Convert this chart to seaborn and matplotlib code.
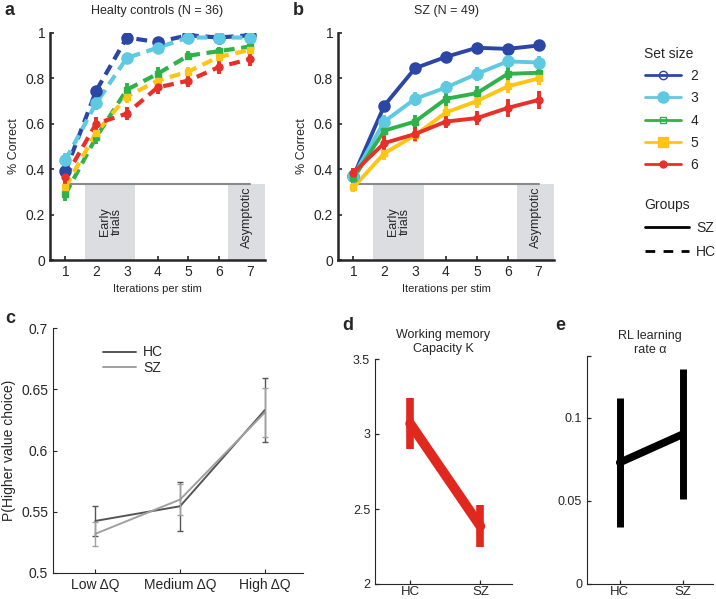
import numpy as np
import pandas as pd
import matplotlib
matplotlib.use("Agg")
import matplotlib.pyplot as plt
import seaborn as sns
from matplotlib.lines import Line2D

# ---------------- data ----------------
iterations = [1, 2, 3, 4, 5, 6, 7]
set_sizes = [2, 3, 4, 5, 6]
set_colors = ["#2c46a6", "#5ec9e0", "#2fb24a", "#ffc515", "#e8302a"]

# panel a: healthy controls, % correct by set size
hc_acc = {
    2: [0.39, 0.745, 0.98, 0.96, 0.99, 0.98, 0.99],
    3: [0.44, 0.69, 0.89, 0.935, 0.98, 0.98, 0.98],
    4: [0.29, 0.54, 0.75, 0.82, 0.90, 0.92, 0.94],
    5: [0.32, 0.56, 0.72, 0.79, 0.83, 0.895, 0.925],
    6: [0.365, 0.60, 0.645, 0.76, 0.79, 0.85, 0.885],
}
hc_err = {
    2: [0.02, 0.02, 0.01, 0.01, 0.01, 0.01, 0.01],
    3: [0.03, 0.03, 0.02, 0.02, 0.01, 0.01, 0.01],
    4: [0.03, 0.03, 0.03, 0.03, 0.02, 0.02, 0.02],
    5: [0.03, 0.03, 0.03, 0.02, 0.02, 0.02, 0.02],
    6: [0.03, 0.03, 0.03, 0.03, 0.03, 0.03, 0.03],
}

# panel b: schizophrenia patients
sz_acc = {
    2: [0.37, 0.68, 0.845, 0.895, 0.935, 0.93, 0.945],
    3: [0.37, 0.61, 0.71, 0.76, 0.82, 0.875, 0.87],
    4: [0.36, 0.57, 0.61, 0.71, 0.735, 0.82, 0.825],
    5: [0.32, 0.47, 0.55, 0.65, 0.70, 0.765, 0.80],
    6: [0.385, 0.515, 0.555, 0.61, 0.625, 0.67, 0.705],
}
sz_err = {
    2: [0.02, 0.02, 0.02, 0.02, 0.015, 0.015, 0.015],
    3: [0.02, 0.03, 0.03, 0.03, 0.03, 0.03, 0.03],
    4: [0.02, 0.03, 0.03, 0.03, 0.03, 0.03, 0.03],
    5: [0.02, 0.03, 0.03, 0.03, 0.03, 0.03, 0.03],
    6: [0.02, 0.03, 0.03, 0.03, 0.03, 0.04, 0.04],
}

# panel c
dq_labels = ["Low \u0394Q", "Medium \u0394Q", "High \u0394Q"]
c_hc = [0.5425, 0.5545, 0.633]
c_hc_err = [0.012, 0.020, 0.026]
c_sz = [0.532, 0.560, 0.631]
c_sz_err = [0.010, 0.013, 0.020]

# panels d and e
groups = ["HC", "SZ"]
wm_k = [3.07, 2.385]
wm_k_err = [0.17, 0.14]
rl_alpha = [0.073, 0.090]
rl_alpha_err = [0.039, 0.039]

# ---------------- figure ----------------
sns.set_style("ticks")
plt.rcParams["font.family"] = ["Liberation Sans", "DejaVu Sans"]
fig = plt.figure(figsize=(7.16, 5.99), dpi=100)
W, H = 716, 599


def px_axes(x0, y0, x1, y1):
    return fig.add_axes([x0 / W, 1 - y1 / H, (x1 - x0) / W, (y1 - y0) / H])


def learning_panel(ax, acc, err, style, title, letter):
    rows = []
    for s in set_sizes:
        for it, v in zip(iterations, acc[s]):
            rows.append({"iter": it, "acc": v, "set": s})
    df = pd.DataFrame(rows)
    # shaded regions and chance line
    ax.axvspan(1.65, 3.28, ymin=0, ymax=0.333, color="#dcdde0", lw=0)
    ax.axvspan(6.3, 7.5, ymin=0, ymax=0.333, color="#dcdde0", lw=0)
    ax.plot([1, 7], [0.333, 0.333], color="#8a8a8a", lw=1.5, zorder=1)
    ax.text(2.47, 0.17, "Early\ntrials", rotation=90, ha="center", va="center",
            fontsize=9, linespacing=1.0)
    ax.text(6.9, 0.325, "Asymptotic", rotation=90, ha="center", va="top", fontsize=9)
    kws = dict(linestyle=(0, (2.6, 1.6))) if style == "--" else {}
    sns.lineplot(data=df, x="iter", y="acc", hue="set", palette=set_colors,
                 lw=3 if style == "--" else 2.8, legend=False, ax=ax, zorder=3, **kws)
    for s, c in zip(set_sizes, set_colors):
        ms = 8 if s in (2, 3) else 5
        mk = "o" if s in (2, 3, 6) else "s"
        ax.errorbar(iterations, acc[s], yerr=err[s], fmt=mk, ms=ms, color=c,
                    elinewidth=2.8, capsize=0, zorder=4)
    ax.set_xlim(0.5, 7.5)
    ax.set_ylim(0, 1)
    ax.set_xticks(iterations)
    ax.set_yticks([0, 0.2, 0.4, 0.6, 0.8, 1])
    ax.set_yticklabels(["0", "0.2", "0.4", "0.6", "0.8", "1"])
    ax.tick_params(direction="in", labelsize=10, width=1.2, length=3)
    ax.set_xlabel("Iterations per stim", fontsize=8)
    ax.set_ylabel("% Correct", fontsize=9)
    ax.set_title(title, fontsize=9, pad=14)
    for sp in ["left", "bottom"]:
        ax.spines[sp].set_linewidth(1.8)
    sns.despine(ax=ax)
    ax.text(-0.21, 1.10, letter, transform=ax.transAxes, fontsize=13,
            fontweight="bold", va="center")


ax_a = px_axes(50, 33, 265, 260)
learning_panel(ax_a, hc_acc, hc_err, "--", "Healty controls (N = 36)", "a")
ax_b = px_axes(338, 33, 554, 260)
learning_panel(ax_b, sz_acc, sz_err, "-", "SZ (N = 49)", "b")

# legends on the right
mk_styles = [("o", "none", 6), ("o", None, 8), ("s", "none", 5), ("s", None, 7), ("o", None, 5)]
set_handles = []
for (mk, fc, ms), c in zip(mk_styles, set_colors):
    kw = dict(markerfacecolor=fc) if fc else {}
    set_handles.append(Line2D([], [], color=c, lw=2, marker=mk, ms=ms, **kw))
leg1 = fig.legend(set_handles, [str(s) for s in set_sizes], title="Set size",
                  loc="upper left", bbox_to_anchor=(632 / W, 1 - 34 / H),
                  frameon=False, fontsize=10, title_fontsize=10, handlelength=2.6,
                  labelspacing=0.6, handletextpad=0.7)
leg1._legend_box.align = "left"
grp_handles = [Line2D([], [], color="black", lw=2),
               Line2D([], [], color="black", lw=2, linestyle=(0, (3.5, 3)))]
leg2 = fig.legend(grp_handles, ["SZ", "HC"], title="Groups", loc="upper left",
                  bbox_to_anchor=(632 / W, 1 - 184 / H), frameon=False, fontsize=10,
                  title_fontsize=10, handlelength=3.2, labelspacing=0.75,
                  handletextpad=0.5)
leg2._legend_box.align = "left"
leg2.get_title().set_position((0, -2))

# panel c
ax_c = px_axes(53, 328, 303, 573)
xpos = [1, 2, 3]
df_c = pd.DataFrame({
    "x": xpos * 2,
    "p": c_hc + c_sz,
    "group": ["HC"] * 3 + ["SZ"] * 3,
})
c_colors = {"HC": "#555555", "SZ": "#a0a0a0"}
sns.lineplot(data=df_c, x="x", y="p", hue="group", palette=c_colors, lw=1.4, ax=ax_c)
ax_c.errorbar(xpos, c_hc, yerr=c_hc_err, fmt="none", ecolor=c_colors["HC"],
              elinewidth=1, capsize=2)
ax_c.errorbar(xpos, c_sz, yerr=c_sz_err, fmt="none", ecolor=c_colors["SZ"],
              elinewidth=1, capsize=2)
ax_c.set_xlim(0.5, 3.45)
ax_c.set_ylim(0.5, 0.7)
ax_c.set_xticks(xpos)
ax_c.set_xticklabels(dq_labels)
ax_c.set_yticks([0.5, 0.55, 0.6, 0.65, 0.7])
ax_c.set_yticklabels(["0.5", "0.55", "0.6", "0.65", "0.7"])
ax_c.tick_params(direction="in", labelsize=10, width=0.8, length=3)
ax_c.set_xlabel("")
ax_c.set_ylabel("P(Higher value choice)", fontsize=10)
ax_c.legend(title=None, frameon=False, loc="upper left", bbox_to_anchor=(0.15, 0.98),
            fontsize=10, handlelength=2.4, labelspacing=0.1, handletextpad=0.5)
sns.despine(ax=ax_c)
ax_c.text(-0.19, 1.04, "c", transform=ax_c.transAxes, fontsize=13,
          fontweight="bold", va="center")

# panel d
ax_d = px_axes(375, 359, 512, 584)
df_d = pd.DataFrame({"group": groups, "k": wm_k})
ax_d.errorbar([0, 1], wm_k, yerr=wm_k_err, fmt="none", ecolor="#e0281e",
              elinewidth=5.5, capsize=0, zorder=3)
sns.lineplot(data=df_d, x=[0, 1], y="k", color="#e0281e", lw=7, ax=ax_d, zorder=3)
ax_d.set_xlim(-0.5, 1.45)
ax_d.set_ylim(2, 3.5)
ax_d.set_xticks([0, 1])
ax_d.set_xticklabels(groups)
ax_d.set_yticks([2, 2.5, 3, 3.5])
ax_d.set_yticklabels(["2", "2.5", "3", "3.5"])
ax_d.tick_params(direction="in", labelsize=9, width=0.9, length=3)
ax_d.tick_params(axis="x", labelsize=9.5, pad=1.5)
ax_d.set_xlabel("")
ax_d.set_ylabel("")
ax_d.set_title("Working memory\nCapacity K", fontsize=9, pad=5, linespacing=1.2)
sns.despine(ax=ax_d)
ax_d.text(-0.24, 1.15, "d", transform=ax_d.transAxes, fontsize=13,
          fontweight="bold", va="center")

# panel e
ax_e = px_axes(587, 356, 713, 584)
df_e = pd.DataFrame({"group": groups, "a": rl_alpha})
ax_e.errorbar([0, 1], rl_alpha, yerr=rl_alpha_err, fmt="none", ecolor="black",
              elinewidth=5, capsize=0, zorder=3)
sns.lineplot(data=df_e, x=[0, 1], y="a", color="black", lw=5.5, ax=ax_e, zorder=3)
ax_e.set_xlim(-0.52, 1.48)
ax_e.set_ylim(0, 0.137)
ax_e.set_xticks([0, 1])
ax_e.set_xticklabels(groups)
ax_e.set_yticks([0, 0.05, 0.1, 0.137])
ax_e.set_yticklabels(["0", "0.05", "0.1", ""])
ax_e.tick_params(direction="in", labelsize=9, width=0.9, length=3)
ax_e.tick_params(axis="x", labelsize=9.5, pad=1.5)
ax_e.set_xlabel("")
ax_e.set_ylabel("")
ax_e.set_title("RL learning\nrate \u03b1", fontsize=9, pad=2, linespacing=1.2)
sns.despine(ax=ax_e)
ax_e.text(-0.25, 1.135, "e", transform=ax_e.transAxes, fontsize=13,
          fontweight="bold", va="center")

fig.savefig("out.png", dpi=100)
